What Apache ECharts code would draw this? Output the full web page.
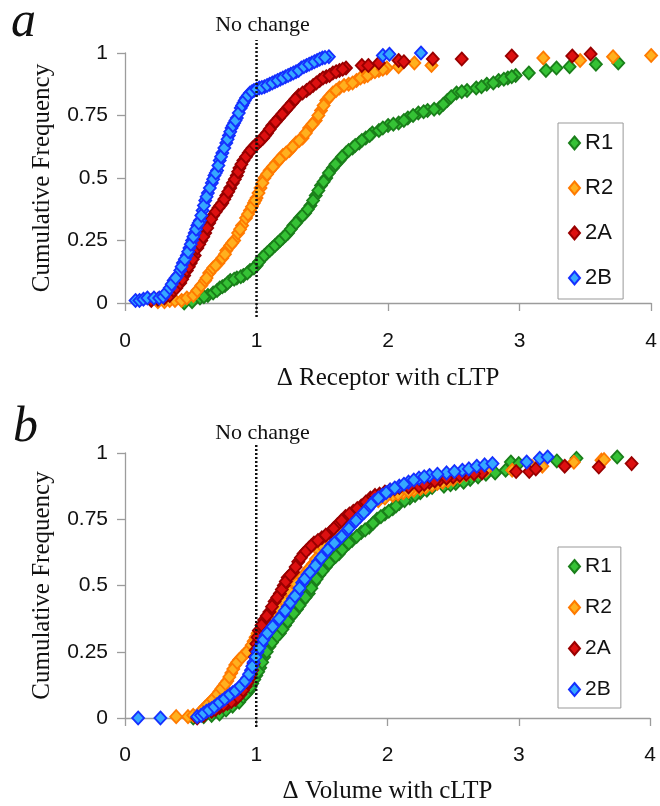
<!DOCTYPE html>
<html>
<head>
<meta charset="utf-8">
<script src="https://cdn.jsdelivr.net/npm/echarts@6/dist/echarts.min.js"></script>
<style>
html,body{margin:0;padding:0;background:#fff;}
#chart{width:660px;height:806px;}
</style>
</head>
<body>
<div id="chart"></div>
<script>
// ---------- data ----------
const seriesNames = ['R1', 'R2', '2A', '2B'];
const xTicks = [0, 1, 2, 3, 4];
const yTicks = [0, 0.25, 0.5, 0.75, 1];

// Panel a: Δ Receptor with cLTP  [x, cumulative frequency]
const aR1 = [[0.45,0.0],[0.51,0.005],[0.57,0.02],[0.63,0.03],[0.67,0.04],[0.72,0.06],[0.76,0.07],[0.80,0.09],[0.85,0.10],[0.90,0.11],[0.95,0.13],[1.00,0.15],[1.04,0.18],[1.08,0.20],[1.12,0.22],[1.16,0.24],[1.20,0.26],[1.24,0.28],[1.28,0.31],[1.33,0.34],[1.37,0.36],[1.41,0.39],[1.45,0.43],[1.49,0.47],[1.53,0.50],[1.58,0.54],[1.63,0.57],[1.68,0.60],[1.73,0.62],[1.78,0.64],[1.83,0.66],[1.88,0.68],[1.93,0.69],[2.00,0.71],[2.08,0.72],[2.15,0.74],[2.23,0.76],[2.30,0.77],[2.39,0.78],[2.45,0.81],[2.52,0.84],[2.60,0.85],[2.67,0.86],[2.75,0.875],[2.84,0.89],[2.91,0.90],[2.97,0.91],[3.07,0.92],[3.20,0.93],[3.28,0.94],[3.38,0.945],[3.58,0.955],[3.75,0.96],
  [0.60,0.025],[0.70,0.05],[0.74,0.065],[0.78,0.08],[0.83,0.095],[0.88,0.105],[0.93,0.12],[0.98,0.14],[1.02,0.165],[1.06,0.19],[1.10,0.21],[1.14,0.23],[1.18,0.25],[1.22,0.27],[1.26,0.295],[1.30,0.32],[1.35,0.35],[1.39,0.375],[1.43,0.41],[1.47,0.45],[1.51,0.485],[1.55,0.52],[1.60,0.555],[1.65,0.585],[1.70,0.61],[1.75,0.63],[1.80,0.65],[1.86,0.67],[1.96,0.70],[2.04,0.715],[2.12,0.73],[2.19,0.75],[2.27,0.765],[2.35,0.775],[2.42,0.795],[2.48,0.825],[2.56,0.845],[2.71,0.865],[2.80,0.88],[2.88,0.895],[2.94,0.905]];
const aR2 = [[0.25,0.005],[0.30,0.005],[0.34,0.01],[0.38,0.01],[0.43,0.01],[0.47,0.02],[0.52,0.03],[0.55,0.05],[0.58,0.07],[0.61,0.09],[0.64,0.12],[0.67,0.14],[0.71,0.16],[0.74,0.18],[0.77,0.21],[0.80,0.23],[0.83,0.25],[0.86,0.28],[0.89,0.31],[0.92,0.34],[0.95,0.37],[0.98,0.40],[1.00,0.42],[1.03,0.46],[1.06,0.50],[1.10,0.53],[1.15,0.56],[1.20,0.59],[1.25,0.61],[1.30,0.64],[1.35,0.66],[1.40,0.70],[1.45,0.73],[1.49,0.77],[1.53,0.81],[1.58,0.84],[1.63,0.86],[1.70,0.875],[1.76,0.89],[1.82,0.905],[1.87,0.92],[1.93,0.93],[1.99,0.94],[2.08,0.945],[2.20,0.96],[2.33,0.95],[3.18,0.98],[3.46,0.97],[3.71,0.985],[4.00,0.99],
  [0.62,0.10],[0.69,0.15],[0.76,0.195],[0.815,0.24],[0.875,0.295],[0.935,0.355],[0.965,0.385],[0.99,0.41],[1.015,0.44],[1.045,0.48],[1.08,0.515],[1.125,0.545],[1.175,0.575],[1.225,0.60],[1.275,0.625],[1.325,0.65],[1.375,0.68],[1.425,0.715],[1.47,0.75],[1.51,0.79],[1.555,0.825],[1.605,0.85],[1.665,0.87],[1.73,0.88],[1.79,0.90],[1.845,0.91],[1.90,0.925],[1.96,0.935]];
const a2A = [[0.20,0.01],[0.25,0.015],[0.30,0.02],[0.34,0.03],[0.37,0.05],[0.39,0.06],[0.42,0.08],[0.45,0.11],[0.47,0.13],[0.50,0.16],[0.53,0.19],[0.55,0.22],[0.58,0.25],[0.61,0.28],[0.64,0.32],[0.67,0.35],[0.71,0.38],[0.74,0.40],[0.77,0.43],[0.80,0.46],[0.82,0.48],[0.85,0.51],[0.87,0.54],[0.90,0.57],[0.94,0.60],[0.97,0.62],[1.01,0.64],[1.05,0.66],[1.08,0.68],[1.12,0.71],[1.17,0.74],[1.22,0.77],[1.27,0.80],[1.32,0.83],[1.38,0.85],[1.43,0.87],[1.48,0.89],[1.53,0.905],[1.58,0.92],[1.63,0.93],[1.68,0.94],[1.80,0.95],[1.85,0.95],[1.93,0.96],[2.08,0.97],[2.12,0.965],[2.34,0.976],[2.56,0.976],[2.94,0.988],[3.40,0.988],[3.54,0.996],
  [0.435,0.095],[0.485,0.145],[0.515,0.175],[0.565,0.235],[0.595,0.265],[0.625,0.30],[0.655,0.335],[0.69,0.365],[0.725,0.39],[0.755,0.415],[0.785,0.445],[0.835,0.495],[0.86,0.525],[0.885,0.555],[0.92,0.585],[0.955,0.61],[0.99,0.63],[1.03,0.65],[1.065,0.67],[1.10,0.695],[1.145,0.725],[1.195,0.755],[1.245,0.785],[1.295,0.815],[1.35,0.84],[1.405,0.86],[1.455,0.88],[1.505,0.90],[1.555,0.91],[1.605,0.925],[1.655,0.935]];
const a2B = [[0.08,0.01],[0.11,0.01],[0.14,0.015],[0.17,0.02],[0.22,0.02],[0.26,0.02],[0.29,0.025],[0.31,0.04],[0.34,0.06],[0.37,0.09],[0.40,0.11],[0.42,0.13],[0.44,0.16],[0.47,0.19],[0.49,0.22],[0.51,0.25],[0.53,0.28],[0.55,0.31],[0.57,0.33],[0.59,0.37],[0.61,0.41],[0.63,0.44],[0.66,0.48],[0.68,0.51],[0.70,0.53],[0.72,0.57],[0.74,0.60],[0.77,0.64],[0.79,0.67],[0.81,0.70],[0.83,0.72],[0.85,0.74],[0.88,0.78],[0.90,0.80],[0.92,0.82],[0.95,0.84],[0.98,0.85],[1.02,0.86],[1.06,0.865],[1.10,0.875],[1.14,0.885],[1.18,0.895],[1.22,0.905],[1.26,0.915],[1.30,0.925],[1.34,0.94],[1.38,0.95],[1.42,0.96],[1.46,0.97],[1.50,0.98],[1.55,0.985],[1.96,0.99],[2.01,0.995],[2.25,1.0],
  [0.355,0.075],[0.385,0.10],[0.43,0.145],[0.455,0.175],[0.48,0.205],[0.50,0.235],[0.52,0.265],[0.54,0.295],[0.56,0.32],[0.58,0.35],[0.60,0.39],[0.62,0.425],[0.645,0.46],[0.67,0.495],[0.69,0.52],[0.71,0.55],[0.73,0.585],[0.755,0.62],[0.78,0.655],[0.80,0.685],[0.82,0.71],[0.84,0.73],[0.865,0.76],[0.89,0.79],[0.91,0.81],[0.935,0.83],[0.965,0.845],[1.00,0.855],[1.04,0.862],[1.08,0.87],[1.12,0.88],[1.16,0.89],[1.20,0.90],[1.24,0.91],[1.28,0.92],[1.32,0.93],[1.36,0.945],[1.40,0.955],[1.44,0.965],[1.48,0.975],[1.52,0.982]];

// Panel b: Δ Volume with cLTP
const bR1 = [[0.52,0.0],[0.60,0.005],[0.66,0.01],[0.72,0.015],[0.77,0.03],[0.82,0.045],[0.87,0.06],[0.90,0.08],[0.94,0.10],[0.97,0.13],[1.00,0.16],[1.03,0.19],[1.06,0.23],[1.10,0.27],[1.14,0.30],[1.18,0.32],[1.22,0.35],[1.26,0.38],[1.31,0.41],[1.35,0.44],[1.40,0.47],[1.44,0.51],[1.48,0.54],[1.53,0.57],[1.58,0.60],[1.63,0.62],[1.68,0.65],[1.73,0.67],[1.80,0.70],[1.86,0.72],[1.92,0.75],[1.98,0.77],[2.04,0.79],[2.09,0.81],[2.17,0.83],[2.25,0.85],[2.34,0.87],[2.43,0.875],[2.52,0.885],[2.63,0.90],[2.75,0.92],[2.90,0.935],[2.94,0.966],[3.00,0.96],[3.29,0.97],[3.44,0.98],[3.75,0.985],
  [0.92,0.09],[0.955,0.115],[0.985,0.145],[1.015,0.175],[1.045,0.21],[1.08,0.25],[1.12,0.285],[1.16,0.31],[1.20,0.335],[1.24,0.365],[1.285,0.395],[1.33,0.425],[1.375,0.455],[1.42,0.49],[1.46,0.525],[1.505,0.555],[1.555,0.585],[1.605,0.61],[1.655,0.635],[1.705,0.66],[1.765,0.685],[1.83,0.71],[1.89,0.735],[1.95,0.76],[2.01,0.78],[2.065,0.80],[2.13,0.82],[2.21,0.84],[2.30,0.86],[2.48,0.88],[2.58,0.89],[2.69,0.91],[2.82,0.925]];
const bR2 = [[0.39,0.005],[0.48,0.005],[0.52,0.01],[0.57,0.02],[0.61,0.04],[0.65,0.06],[0.69,0.08],[0.72,0.10],[0.75,0.12],[0.78,0.14],[0.81,0.17],[0.84,0.20],[0.87,0.22],[0.91,0.24],[0.95,0.26],[0.98,0.29],[1.01,0.32],[1.05,0.34],[1.10,0.37],[1.15,0.40],[1.19,0.43],[1.23,0.46],[1.28,0.49],[1.33,0.52],[1.38,0.55],[1.43,0.58],[1.48,0.63],[1.54,0.66],[1.60,0.69],[1.66,0.72],[1.72,0.75],[1.78,0.78],[1.84,0.80],[1.93,0.82],[2.04,0.84],[2.12,0.85],[2.20,0.86],[2.29,0.87],[2.38,0.885],[2.46,0.895],[2.55,0.91],[2.65,0.925],[2.75,0.935],[2.95,0.935],[3.10,0.95],[3.18,0.95],[3.42,0.965],[3.63,0.973],[3.65,0.975],
  [0.59,0.03],[0.63,0.05],[0.67,0.07],[0.705,0.09],[0.735,0.11],[0.765,0.13],[0.795,0.155],[0.825,0.185],[0.855,0.21],[0.89,0.23],[0.93,0.25],[0.965,0.275],[0.995,0.305],[1.03,0.33],[1.075,0.355],[1.125,0.385],[1.17,0.415],[1.21,0.445],[1.255,0.475],[1.305,0.505],[1.355,0.535],[1.405,0.565],[1.455,0.60],[1.51,0.645],[1.57,0.675],[1.63,0.705],[1.69,0.735],[1.75,0.765],[1.81,0.79],[1.88,0.81],[1.98,0.83],[2.08,0.845],[2.16,0.855],[2.25,0.865],[2.34,0.878],[2.42,0.89],[2.50,0.90],[2.60,0.918],[2.70,0.93]];
const b2A = [[0.55,0.0],[0.60,0.01],[0.66,0.025],[0.72,0.04],[0.78,0.055],[0.84,0.07],[0.88,0.09],[0.92,0.12],[0.95,0.15],[0.97,0.18],[0.99,0.23],[1.00,0.28],[1.02,0.33],[1.06,0.37],[1.10,0.40],[1.14,0.44],[1.18,0.47],[1.21,0.50],[1.24,0.53],[1.28,0.55],[1.32,0.59],[1.36,0.62],[1.40,0.64],[1.44,0.66],[1.50,0.68],[1.56,0.70],[1.62,0.73],[1.68,0.76],[1.74,0.78],[1.80,0.80],[1.87,0.83],[1.94,0.845],[2.02,0.86],[2.09,0.87],[2.24,0.875],[2.32,0.89],[2.40,0.90],[2.50,0.91],[2.60,0.92],[2.72,0.925],[2.98,0.93],[3.08,0.93],[3.13,0.94],[3.35,0.95],[3.61,0.947],[3.86,0.96],
  [0.69,0.032],[0.75,0.048],[0.81,0.062],[0.86,0.08],[0.90,0.105],[0.935,0.135],[0.96,0.165],[0.98,0.205],[0.995,0.255],[1.01,0.305],[1.04,0.35],[1.08,0.385],[1.12,0.42],[1.16,0.455],[1.195,0.485],[1.225,0.515],[1.26,0.54],[1.30,0.57],[1.34,0.605],[1.38,0.63],[1.42,0.65],[1.47,0.67],[1.53,0.69],[1.59,0.715],[1.65,0.745],[1.71,0.77],[1.77,0.79],[1.835,0.815],[1.905,0.84],[1.98,0.853],[2.055,0.865],[2.16,0.872],[2.28,0.882],[2.36,0.895],[2.45,0.905],[2.55,0.915],[2.66,0.922]];
const b2B = [[0.10,0.0],[0.27,0.0],[0.55,0.005],[0.58,0.01],[0.62,0.025],[0.66,0.035],[0.70,0.05],[0.74,0.065],[0.78,0.08],[0.82,0.095],[0.86,0.11],[0.90,0.13],[0.93,0.15],[0.96,0.18],[0.98,0.21],[1.01,0.25],[1.04,0.28],[1.07,0.31],[1.10,0.33],[1.15,0.36],[1.20,0.39],[1.24,0.42],[1.28,0.45],[1.31,0.47],[1.35,0.51],[1.39,0.54],[1.43,0.56],[1.47,0.59],[1.52,0.62],[1.57,0.65],[1.62,0.67],[1.68,0.70],[1.73,0.73],[1.79,0.76],[1.85,0.79],[1.90,0.82],[1.96,0.84],[2.02,0.86],[2.09,0.875],[2.16,0.89],[2.24,0.905],[2.32,0.915],[2.45,0.925],[2.57,0.935],[2.62,0.94],[2.68,0.95],[2.74,0.955],[2.80,0.96],[3.06,0.966],[3.16,0.98],[3.22,0.985],
  [0.60,0.018],[0.64,0.03],[0.68,0.042],[0.72,0.058],[0.76,0.072],[0.80,0.088],[0.84,0.102],[0.88,0.12],[0.915,0.14],[0.945,0.165],[0.97,0.195],[0.995,0.23],[1.025,0.265],[1.055,0.295],[1.085,0.32],[1.125,0.345],[1.175,0.375],[1.22,0.405],[1.26,0.435],[1.295,0.46],[1.33,0.49],[1.37,0.525],[1.41,0.55],[1.45,0.575],[1.495,0.605],[1.545,0.635],[1.595,0.66],[1.65,0.685],[1.705,0.715],[1.76,0.745],[1.82,0.775],[1.875,0.805],[1.93,0.83],[1.99,0.85],[2.055,0.868],[2.125,0.882],[2.20,0.898],[2.28,0.91],[2.38,0.92],[2.51,0.93]];

// "No change" reference line at x = 1 (ends in data units)
const noChangeA = [[1, -0.056], [1, 1.052]];
const noChangeB = [[1, -0.034], [1, 1.038]];

// ---------- styles ----------
const fills   = {R1:'#35c235', R2:'#ffb01e', '2A':'#dd1010', '2B':'#35a8ff'};
const borders = {R1:'#1a7f1a', R2:'#ff7a00', '2A':'#990000', '2B':'#1530ff'};
const SANS = 'Liberation Sans, Arial, sans-serif';
const SERIF = 'Liberation Serif, Times New Roman, serif';
const AXC = '#9c9c9c';

function xAx(gi, name, gap, margin){
  return {gridIndex:gi, type:'value', min:xTicks[0], max:xTicks[xTicks.length-1], interval:xTicks[1]-xTicks[0],
    name:name, nameLocation:'middle', nameGap:gap,
    nameTextStyle:{fontFamily:SERIF, fontSize:25, color:'#111'},
    axisLine:{show:true, onZero:false, lineStyle:{color:AXC, width:1.3}},
    axisTick:{show:true, length:8, lineStyle:{color:AXC, width:1.3}},
    axisLabel:{margin:margin, fontSize:21, fontFamily:SANS, color:'#111'},
    splitLine:{show:false}};
}
function yAx(gi){
  return {gridIndex:gi, type:'value', min:yTicks[0], max:yTicks[yTicks.length-1], interval:yTicks[1]-yTicks[0],
    name:'Cumulative Frequency', nameLocation:'middle', nameGap:70,
    nameTextStyle:{fontFamily:SERIF, fontSize:25, color:'#111'},
    axisLine:{show:true, onZero:false, lineStyle:{color:AXC, width:1.3}},
    axisTick:{show:true, length:8, lineStyle:{color:AXC, width:1.3}},
    axisLabel:{margin:17, fontSize:21, fontFamily:SANS, color:'#111'},
    splitLine:{show:false}};
}
function scat(name, data, gi){
  return {type:'scatter', name:name, xAxisIndex:gi, yAxisIndex:gi, data:data,
    symbol:'diamond', symbolSize:[12,13],
    itemStyle:{color:fills[name], borderColor:borders[name], borderWidth:1.8, opacity:1},
    emphasis:{disabled:true}, silent:true, clip:false};
}
function refLine(data, gi){
  return {type:'line', name:'No change', xAxisIndex:gi, yAxisIndex:gi, data:data, symbol:'none', clip:false,
    lineStyle:{color:'#111', width:2.5, type:[2,2]}, z:5, silent:true, animation:false};
}
function leg(top, pad, gap, fs){
  return {data:seriesNames, orient:'vertical', left:558, top:top, padding:pad, itemGap:gap,
    itemWidth:11, itemHeight:13, icon:'diamond', selectedMode:false,
    textStyle:{fontSize:fs, lineHeight:fs, fontFamily:SANS, color:'#111'},
    borderColor:'#999', borderWidth:1, backgroundColor:'#fff'};
}

const option = {
  animation:false,
  backgroundColor:'#fff',
  grid:[{left:125, top:53, width:527, height:250}, {left:125, top:453, width:525, height:265}],
  xAxis:[xAx(0,'\u0394 Receptor with cLTP',63,28), xAx(1,'\u0394 Volume with cLTP',61,27)],
  yAxis:[yAx(0), yAx(1)],
  legend:[leg(123,[9,10,10,10],23,22), leg(547,[9,9,8,10],20,21)],
  series:[
    scat('R1', aR1, 0), scat('R2', aR2, 0), scat('2A', a2A, 0), scat('2B', a2B, 0),
    scat('R1', bR1, 1), scat('R2', bR2, 1), scat('2A', b2A, 1), scat('2B', b2B, 1),
    refLine(noChangeA, 0), refLine(noChangeB, 1)
  ],
  graphic:[
    {type:'text', style:{text:'a', x:11, y:23, font:'italic 50px '+SERIF, fill:'#111', verticalAlign:'middle'}},
    {type:'text', style:{text:'b', x:13, y:428, font:'italic 50px '+SERIF, fill:'#111', verticalAlign:'middle'}},
    {type:'text', style:{text:'No change', x:262.5, y:25.5, font:'22px '+SERIF, fill:'#111', align:'center', verticalAlign:'middle'}},
    {type:'text', style:{text:'No change', x:262.5, y:433.5, font:'22px '+SERIF, fill:'#111', align:'center', verticalAlign:'middle'}}
  ]
};
const chart = echarts.init(document.getElementById('chart'), null, {renderer:'canvas'});
chart.setOption(option);
</script>
</body>
</html>
